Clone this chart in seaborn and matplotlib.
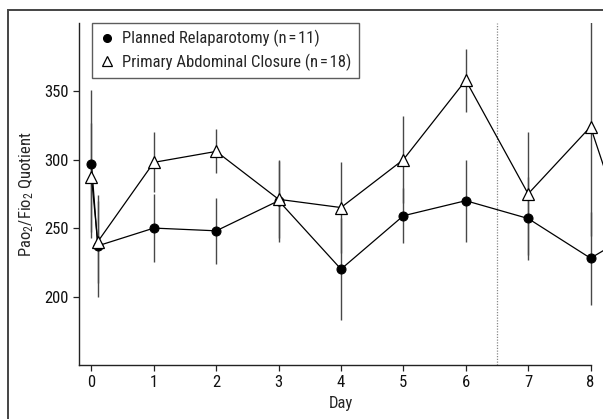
import matplotlib
matplotlib.use("Agg")
import matplotlib.pyplot as plt
from matplotlib.lines import Line2D
from matplotlib.patches import Rectangle
import seaborn as sns
import pandas as pd
from matplotlib import font_manager

# Measurement days (day 0 has a pre- and a post-operative value)
days = [0, 0.1, 1, 2, 3, 4, 5, 6, 7, 8, 9]
relap_mean = [297, 237, 250, 248, 270, 220, 259, 270, 257, 228, 255]
relap_err = [54, 37, 25, 24, 30, 37, 20, 30, 30, 34, 30]
closure_mean = [287, 240, 298, 306, 271, 265, 300, 358, 275, 324, 187]
closure_err = [40, 30, 22, 16, 28, 33, 32, 23, 45, 80, 30]
x_ticks = [0, 1, 2, 3, 4, 5, 6, 7, 8]
y_ticks = [200, 250, 300, 350]
label_relap = "Planned Relaparotomy (n\u200a=\u200a11)"
label_closure = "Primary Abdominal Closure (n\u200a=\u200a18)"

sns.set_style("ticks")


def pick_condensed_font():
    """Find an installed narrow/condensed sans face; fall back to Liberation Sans."""
    order = ["liberation sans narrow", "roboto condensed", "open sans condensed",
             "noto sans", "dejavu sans", "liberation sans", "roboto", "open sans"]
    found = []
    for f in font_manager.fontManager.ttflist:
        nm = f.name.lower()
        st = f.stretch
        cond = ("narrow" in nm or "condensed" in nm
                or st in ("condensed", "semi-condensed", "extra-condensed", "ultra-condensed")
                or (isinstance(st, (int, float)) and st < 100))
        if cond and f.style == "normal" and f.weight in (400, "normal", "regular", "book"):
            rank = next((i for i, o in enumerate(order) if nm.startswith(o)), len(order))
            found.append((rank, f.name, st))
    if found:
        found.sort(key=lambda t: t[0])
        return found[0][1], found[0][2]
    return "Liberation Sans", "normal"


family, stretch = pick_condensed_font()
plt.rcParams["font.family"] = [family, "DejaVu Sans"]
plt.rcParams["font.stretch"] = stretch
plt.rcParams["mathtext.fontset"] = "custom"
plt.rcParams["mathtext.rm"] = family
plt.rcParams["mathtext.it"] = family

df = pd.DataFrame({
    "day": days * 2,
    "value": relap_mean + closure_mean,
    "err": relap_err + closure_err,
    "group": [label_relap] * len(days) + [label_closure] * len(days),
})

fig = plt.figure(figsize=(6.03, 4.19), dpi=100)
ax = fig.add_axes([79 / 603, 1 - 365 / 419, 1 - 79 / 603, (365 - 22.7) / 419])

# outer frame around the whole figure
fig.patches.append(Rectangle((8 / 603, -0.1), 1.2, 1 - 10 / 419 + 0.1,
                             transform=fig.transFigure, fill=False,
                             edgecolor="#444444", linewidth=1.4, zorder=0))

# error bars (no caps)
ax.errorbar(df["day"], df["value"], yerr=df["err"], fmt="none",
            ecolor="#484848", elinewidth=1.0, capsize=0, zorder=1)

sub_r = df[df["group"] == label_relap]
sub_c = df[df["group"] == label_closure]
sns.lineplot(data=sub_r, x="day", y="value", ax=ax, color="black", linewidth=0.9,
             marker="o", markersize=6.5, markerfacecolor="black",
             markeredgecolor="black", zorder=3, sort=False, errorbar=None)
sns.lineplot(data=sub_c, x="day", y="value", ax=ax, color="black", linewidth=0.9,
             marker="^", markersize=8, markerfacecolor="white",
             markeredgecolor="black", markeredgewidth=0.9, zorder=4,
             sort=False, errorbar=None)

# transition marker between days 6 and 7
ax.axvline(6.5, color="#888888", linestyle=(0, (1, 1.2)), linewidth=0.9, zorder=0)

ax.set_xlim(-0.2, 8.2)
ax.set_ylim(150, 400)
ax.set_xticks(x_ticks)
ax.set_yticks(y_ticks)
ax.tick_params(axis="both", labelsize=12, length=4.5, width=0.9, colors="#222222",
               labelcolor="#111111", pad=3)
for s in ["top", "right"]:
    ax.spines[s].set_visible(False)
for s in ["left", "bottom"]:
    ax.spines[s].set_linewidth(1.0)
    ax.spines[s].set_color("#222222")
ax.spines["bottom"].set_bounds(-0.2, 8)

ax.set_xlabel("Day", fontsize=12, labelpad=4)
ax.set_ylabel(r"Pao$_\mathregular{2}$/Fio$_\mathregular{2}$ Quotient", fontsize=12, labelpad=6)

handles = [
    Line2D([], [], linestyle="none", marker="o", markersize=5.5, color="black"),
    Line2D([], [], linestyle="none", marker="^", markersize=7,
           markerfacecolor="white", markeredgecolor="black", markeredgewidth=0.9),
]
leg = ax.legend(handles, [label_relap, label_closure], loc="upper left",
                bbox_to_anchor=(13.5 / 524, 1.0), borderaxespad=0,
                frameon=True, fancybox=False, fontsize=12,
                handlelength=0.8, handletextpad=0.5, borderpad=0.45,
                labelspacing=0.35)
leg.get_frame().set_edgecolor("#333333")
leg.get_frame().set_linewidth(1.0)

fig.savefig("out.png", dpi=100)
